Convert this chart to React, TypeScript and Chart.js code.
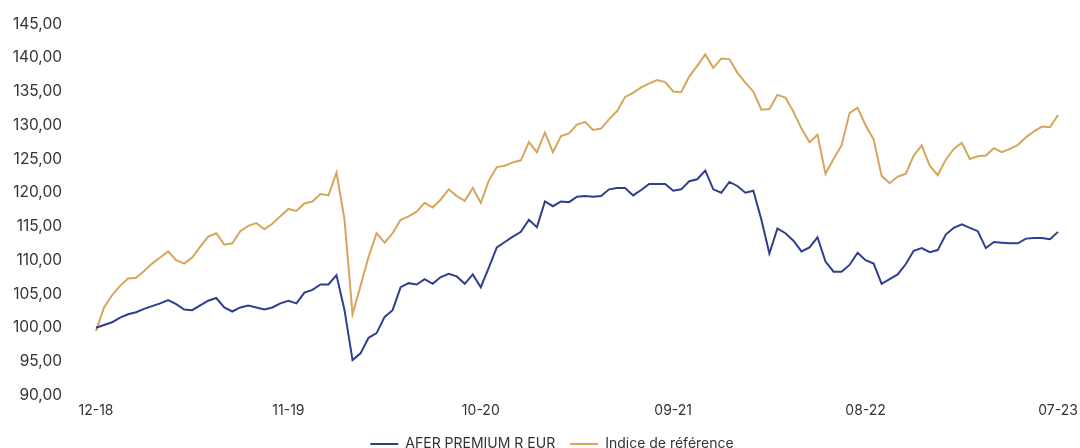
import React, { useEffect, useRef } from 'react';
import { Chart, registerables } from 'chart.js';

Chart.register(...registerables);

// Biweekly observations, Dec 2018 -> Jul 2023 (base 100)
const TICK_LABELS = ['12-18', '11-19', '10-20', '09-21', '08-22', '07-23'];
const TICK_EVERY = 24;

const AFER_PREMIUM = [
  100.0, 100.4, 100.8, 101.5, 102.0, 102.3, 102.8, 103.2, 103.6, 104.1,
  103.5, 102.7, 102.6, 103.3, 104.0, 104.4, 103.0, 102.4, 103.0, 103.3,
  103.0, 102.7, 103.0, 103.6, 104.0, 103.6, 105.2, 105.6, 106.4, 106.4,
  107.8, 102.6, 95.2, 96.2, 98.5, 99.2, 101.6, 102.6, 106.0, 106.6,
  106.4, 107.2, 106.5, 107.5, 108.0, 107.6, 106.5, 107.9, 106.0, 108.9,
  111.9, 112.7, 113.5, 114.2, 116.0, 114.9, 118.7, 118.0, 118.7, 118.6,
  119.4, 119.5, 119.4, 119.5, 120.5, 120.7, 120.7, 119.6, 120.4, 121.3,
  121.3, 121.3, 120.3, 120.5, 121.7, 122.0, 123.3, 120.5, 120.0, 121.6,
  121.0, 120.0, 120.3, 116.0, 111.0, 114.7, 114.0, 112.9, 111.3, 111.9,
  113.4, 109.8, 108.3, 108.3, 109.3, 111.1, 110.0, 109.5, 106.5, 107.2,
  107.9, 109.4, 111.4, 111.8, 111.2, 111.5, 113.8, 114.8, 115.3, 114.8,
  114.3, 111.8, 112.7, 112.6, 112.5, 112.5, 113.2, 113.3, 113.3, 113.1,
  114.2,
];

const INDICE_REFERENCE = [
  99.5, 103.0, 104.8, 106.2, 107.3, 107.4, 108.4, 109.5, 110.4, 111.3,
  110.0, 109.5, 110.4, 112.0, 113.5, 114.0, 112.3, 112.5, 114.3, 115.1,
  115.5, 114.6, 115.4, 116.5, 117.6, 117.3, 118.4, 118.7, 119.8, 119.6,
  123.0, 116.0, 102.0, 106.2, 110.5, 114.0, 112.6, 114.0, 116.0, 116.5,
  117.2, 118.5, 117.8, 119.0, 120.5, 119.5, 118.8, 120.7, 118.5, 121.8,
  123.8, 124.0, 124.5, 124.8, 127.5, 126.0, 128.9, 126.0, 128.4, 128.8,
  130.1, 130.5, 129.3, 129.5, 130.9, 132.1, 134.2, 134.8, 135.6, 136.2,
  136.7, 136.4, 135.0, 134.9, 137.2, 138.8, 140.5, 138.5, 139.9, 139.8,
  137.8, 136.3, 135.0, 132.3, 132.4, 134.5, 134.1, 132.0, 129.5, 127.5,
  128.6, 122.8, 125.0, 127.0, 131.8, 132.6, 130.0, 127.9, 122.5, 121.4,
  122.4, 122.8, 125.5, 127.0, 124.0, 122.6, 124.9, 126.5, 127.4, 125.0,
  125.4, 125.5, 126.6, 126.0, 126.5, 127.1, 128.2, 129.1, 129.8, 129.7,
  131.5,
];

const CATEGORIES = AFER_PREMIUM.map((_, i) =>
  i % TICK_EVERY === 0 ? TICK_LABELS[i / TICK_EVERY] : String(i)
);

const Y_MIN = 90;
const Y_MAX = 145;
const Y_STEP = 5;

const NAVY = '#2f3e8d';
const GOLD = '#d5a65b';
const TEXT = '#333333';

const legendShift = {
  id: 'legendShift',
  afterLayout(chart: any) {
    if (chart.legend) {
      chart.legend.left += 23;
      chart.legend.right += 23;
    }
  },
};

export default function App() {
  const ref = useRef<HTMLCanvasElement | null>(null);

  useEffect(() => {
    document.body.style.margin = '0';
    const canvas = ref.current;
    if (!canvas) return;
    const chart = new Chart(canvas, {
      type: 'line',
      data: {
        labels: CATEGORIES,
        datasets: [
          {
            label: 'AFER PREMIUM R EUR',
            data: AFER_PREMIUM,
            borderColor: NAVY,
            backgroundColor: NAVY,
            borderWidth: 2,
            pointRadius: 0,
            tension: 0,
          },
          {
            label: 'Indice de référence',
            data: INDICE_REFERENCE,
            borderColor: GOLD,
            backgroundColor: GOLD,
            borderWidth: 2,
            pointRadius: 0,
            tension: 0,
          },
        ],
      },
      plugins: [legendShift],
      options: {
        animation: false,
        responsive: false,
        maintainAspectRatio: false,
        layout: { padding: { top: 24, right: 22, left: 0, bottom: 0 } },
        plugins: {
          tooltip: { enabled: false },
          legend: {
            position: 'bottom',
            labels: {
              usePointStyle: true,
              pointStyle: 'line',
              pointStyleWidth: 28,
              color: TEXT,
              padding: 15,
              font: { family: 'Inter', size: 14 },
            },
          },
        },
        scales: {
          x: {
            type: 'category',
            grid: { display: false, drawTicks: true, tickLength: 5 },
            border: { display: false },
            afterBuildTicks: (scale: any) => {
              scale.ticks = scale.ticks.filter((t: any) => t.value % TICK_EVERY === 0);
            },
            afterFit: (scale: any) => {
              scale.height = scale.height + 1;
            },
            ticks: {
              autoSkip: false,
              maxRotation: 0,
              padding: 2,
              color: TEXT,
              font: { family: 'Inter', size: 14 },
              callback: function (this: any, value: any) {
                return this.getLabelForValue(value);
              },
            },
          },
          y: {
            min: Y_MIN,
            max: Y_MAX,
            grid: { display: false, drawTicks: true, tickLength: 31 },
            border: { display: false },
            afterFit: (scale: any) => {
              scale.width = 96;
            },
            ticks: {
              stepSize: Y_STEP,
              padding: 3,
              color: TEXT,
              font: { family: 'Inter', size: 15.5 },
              callback: (v: any) => Number(v).toFixed(2).replace('.', ','),
            },
          },
        },
      },
    });
    return () => chart.destroy();
  }, []);

  return (
    <div style={{ width: 1080, height: 461 }}>
      <canvas ref={ref} width={1080} height={461} style={{ display: 'block' }} />
    </div>
  );
}
